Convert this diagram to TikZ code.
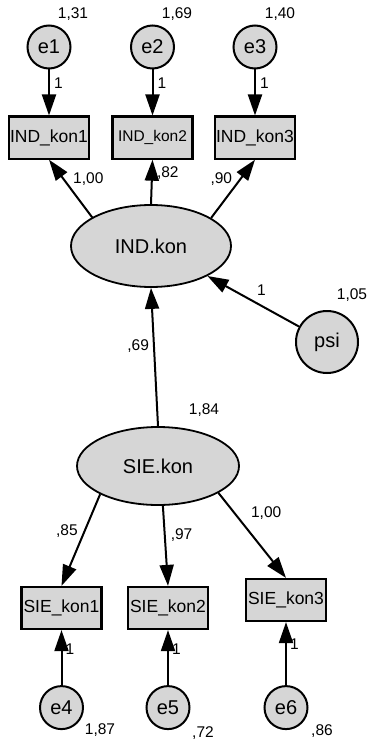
\documentclass[tikz,border=0pt]{standalone}
\usepackage{fontspec}
\setmainfont{Liberation Sans}
\usetikzlibrary{arrows.meta,positioning,shapes.geometric}

\begin{document}
\begin{tikzpicture}[
    x=1pt, y=1pt,
    every node/.style={inner sep=0pt},
    err/.style={draw, circle, line width=2pt, fill=black!16, minimum size=43pt, font=\fontsize{20}{20}\selectfont},
    obs/.style={draw, rectangle, line width=2.2pt, fill=black!16, minimum width=80pt, minimum height=42pt, font=\fontsize{17.5}{18}\selectfont},
    lat/.style={draw, ellipse, line width=1.8pt, fill=black!16, minimum width=160pt, minimum height=82pt, font=\fontsize{20}{20}\selectfont},
    num/.style={font=\fontsize{15.5}{15.5}\selectfont},
    arr/.style={-{Triangle[length=21pt,width=14pt]}, line width=2pt}
  ]
  \useasboundingbox (0,0) rectangle (369,-741);

  % indicators of IND.kon
  \node[err] (e1) at (49,-47) {e1};
  \node[err] (e2) at (152.5,-47) {e2};
  \node[err] (e3) at (255,-47) {e3};
  \node[obs, below=46pt of e1] (indkon1) {IND\_kon1};
  \node[obs, below=46pt of e2, font=\fontsize{15.5}{16}\selectfont] (indkon2) {IND\_kon2};
  \node[obs, below=46pt of e3] (indkon3) {IND\_kon3};
  \node[lat] (indkon) at (151,-246) {IND.kon};
  \node[err, minimum size=62pt] (psi) at (327,-342) {psi};

  % indicators of SIE.kon
  \node[lat, minimum width=162pt, minimum height=78pt] (siekon) at (158,-466) {SIE.kon};
  \node[obs] (siekon1) at (61.5,-608) {SIE\_kon1};
  \node[obs] (siekon2) at (168,-608) {SIE\_kon2};
  \node[obs] (siekon3) at (286,-600) {SIE\_kon3};
  \node[err, below=55pt of siekon1] (e4) {e4};
  \node[err, below=55pt of siekon2] (e5) {e5};
  \node[err, below=63pt of siekon3] (e6) {e6};

  % variances
  \node[num] (v1) at (73,-14) {1,31};
  \node[num] (v2) at (177,-14) {1,69};
  \node[num] (v3) at (280,-14) {1,40};
  \node[num] (vpsi) at (352,-295) {1,05};
  \node[num] (vsie) at (204,-410) {1,84};
  \node[num] (v4) at (100,-730) {1,87};
  \node[num] (v5) at (203,-733) {,72};
  \node[num] (v6) at (322,-731) {,86};

  \draw[arr] (e1) -- node[num, right=4pt, pos=0.3] (w1) {1} (indkon1);
  \draw[arr] (e2) -- node[num, right=4pt, pos=0.3] (w2) {1} (indkon2);
  \draw[arr] (e3) -- node[num, right=4pt, pos=0.3] (w3) {1} (indkon3);
  \draw[arr] (indkon.154) -- node[num, right=9pt, pos=0.67] (l1) {1,00} (indkon1.south);
  \draw[arr] (indkon.north) -- node[num, right=4pt, pos=0.69] (l2) {,82} (indkon2.south);
  \draw[arr] (indkon.25) -- node[num, left=7pt, pos=0.66] (l3) {,90} (indkon3.south);
  \draw[arr] (psi) -- node[num, above=9pt, pos=0.41] (wpsi) {1} (indkon.-28);
  \draw[arr] (siekon.north) -- node[num, left=4pt, pos=0.58] (g) {,69} (indkon.south);
  \draw[arr] (siekon.206) -- node[num, left=6pt, pos=0.4] (m1) {,85} (siekon1.north);
  \draw[arr] (siekon.-83) -- node[num, right=5pt, pos=0.37] (m2) {,97} (siekon2.north);
  \draw[arr] (siekon.-24) -- node[num, above right=2pt and 8pt, pos=0.35] (m3) {1,00} (siekon3.north);
  \draw[arr] (e4) -- node[num, right=3pt, pos=0.65] (w4) {1} (siekon1);
  \draw[arr] (e5) -- node[num, right=3pt, pos=0.65] (w5) {1} (siekon2);
  \draw[arr] (e6) -- node[num, right=3pt, pos=0.65] (w6) {1} (siekon3);
\end{tikzpicture}
\end{document}
